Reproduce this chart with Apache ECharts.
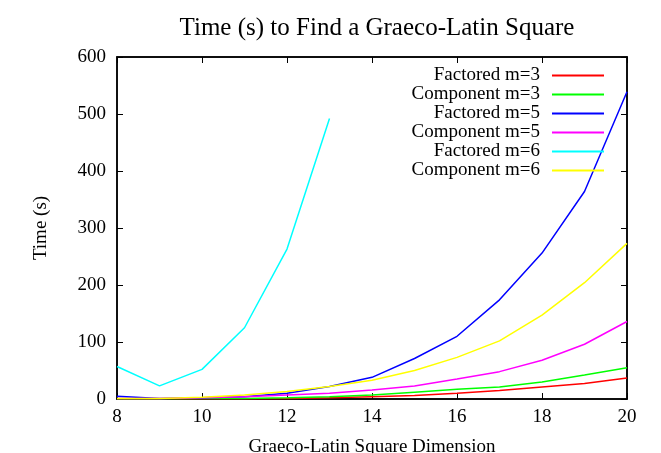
<!DOCTYPE html>
<html lang="en">
  <head>
    <meta charset="UTF-8" />
    <title>Graeco-Latin Square</title>
    <script src="https://cdn.jsdelivr.net/npm/echarts@6.0.0/dist/echarts.min.js"></script>
    <style>
      html, body { margin: 0; padding: 0; background: #fff; }
    </style>
  </head>
  <body>
    <div id="chart" style="width: 661px; height: 453px"></div>
    <script>
      // dimensions on the x axis
      var dims = [8, 9, 10, 11, 12, 13, 14, 15, 16, 17, 18, 19, 20]
      // times (seconds)
      var factored3 = [0.5, 0.5, 0.5, 0.5, 1, 2, 4, 6, 10, 15, 21, 27, 37]
      var component3 = [0.5, 0.5, 1, 1, 2, 4, 7, 12, 17, 21, 30, 42, 55]
      var factored5 = [5, 1, 2, 4, 10, 22, 38, 71, 110, 174, 256, 364, 539]
      var component5 = [1, 1, 2, 4, 7, 10, 16, 23, 35, 48, 68, 96, 136]
      var factored6 = [57, 23, 52, 125, 263, 492]
      var component6 = [1, 1, 3, 7, 13, 22, 33, 50, 73, 102, 147, 204, 273]

      var names = ['Factored m=3', 'Component m=3', 'Factored m=5', 'Component m=5', 'Factored m=6', 'Component m=6']
      var colors = ['#ff0000', '#00ff00', '#0000ff', '#ff00ff', '#00ffff', '#ffff00']
      var values = [factored3, component3, factored5, component5, factored6, component6]

      var font = 'Liberation Serif'

      function pairs(vals) {
        return vals.map(function (v, i) { return [dims[i], v] })
      }

      var series = values.map(function (vals, i) {
        return {
          name: names[i],
          type: 'line',
          data: pairs(vals),
          showSymbol: false,
          symbol: 'none',
          lineStyle: { color: colors[i], width: 1.5 },
          itemStyle: { color: colors[i] }
        }
      })
      // empty series on the top/right axes, otherwise they are not drawn
      series.push({ type: 'line', xAxisIndex: 1, yAxisIndex: 1, data: [], silent: true })

      // inward ticks on all four sides
      function frameLine() {
        return { show: true, onZero: false, lineStyle: { color: '#000', width: 1.5 } }
      }
      function frameTick() {
        return { show: true, inside: true, length: 6, lineStyle: { color: '#000', width: 1 } }
      }

      var chart = echarts.init(document.getElementById('chart'))
      chart.setOption({
        animation: false,
        textStyle: { fontFamily: font, color: '#000' },
        title: {
          text: 'Time (s) to Find a Graeco-Latin Square',
          left: 372,
          textAlign: 'center',
          top: 11,
          textStyle: { fontFamily: font, fontSize: 25, fontWeight: 'normal', color: '#000' }
        },
        legend: {
          orient: 'vertical',
          align: 'right',
          right: 52,
          top: 61,
          itemWidth: 52,
          itemHeight: 2,
          itemGap: 0,
          icon: 'rect',
          textStyle: { fontFamily: font, fontSize: 19, lineHeight: 19, color: '#000', padding: [0, 7, 0, 0] },
          data: names.map(function (n, i) {
            return { name: n, itemStyle: { color: colors[i] } }
          })
        },
        grid: {
          left: 117, right: 34, top: 57, bottom: 54,
          outerBoundsMode: 'none',
          show: true,
          borderColor: '#000',
          borderWidth: 1.5,
          backgroundColor: 'transparent'
        },
        xAxis: [
          {
            type: 'value',
            min: 8, max: 20, interval: 2,
            name: 'Graeco-Latin Square Dimension',
            nameLocation: 'middle',
            nameGap: 39,
            nameTextStyle: { fontFamily: font, fontSize: 19, color: '#000' },
            axisLine: frameLine(),
            axisTick: frameTick(),
            axisLabel: { fontFamily: font, fontSize: 19, color: '#000', margin: 9 },
            splitLine: { show: false }
          },
          {
            type: 'value',
            position: 'top',
            min: 8, max: 20, interval: 2,
            axisLine: frameLine(),
            axisTick: frameTick(),
            axisLabel: { show: false },
            splitLine: { show: false }
          }
        ],
        yAxis: [
          {
            type: 'value',
            min: 0, max: 600, interval: 100,
            name: 'Time (s)',
            nameLocation: 'middle',
            nameGap: 66,
            nameTextStyle: { fontFamily: font, fontSize: 19, color: '#000' },
            axisLine: frameLine(),
            axisTick: frameTick(),
            axisLabel: { fontFamily: font, fontSize: 19, color: '#000', margin: 11 },
            splitLine: { show: false }
          },
          {
            type: 'value',
            position: 'right',
            min: 0, max: 600, interval: 100,
            axisLine: frameLine(),
            axisTick: frameTick(),
            axisLabel: { show: false },
            splitLine: { show: false }
          }
        ],
        series: series
      })
    </script>
  </body>
</html>
